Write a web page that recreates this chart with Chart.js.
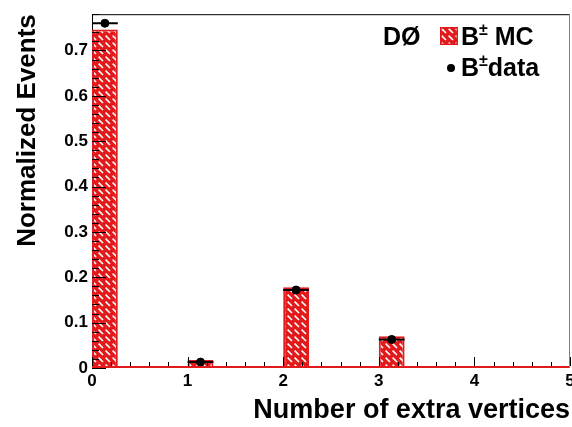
<!DOCTYPE html>
<html>
<head>
<meta charset="utf-8">
<script src="https://cdn.jsdelivr.net/npm/chart.js@4"></script>
<style>
  html, body { margin: 0; padding: 0; background: #fff; overflow: hidden; }
  #wrap { width: 580px; height: 427px; }
</style>
</head>
<body>
<div id="wrap"><canvas id="vtxChart" width="580" height="427"></canvas></div>
<script>
// Normalized distribution of extra vertices, MC vs data
const nExtra = [0, 1, 2, 3];
const mcFrac = [0.746, 0.0175, 0.178, 0.070];
const dataFrac = [0.760, 0.013, 0.172, 0.063];
const xTickValues = [0, 1, 2, 3, 4, 5];
const yTickValues = [0, 0.1, 0.2, 0.3, 0.4, 0.5, 0.6, 0.7];
const binWidth = 0.27;

const RED = '#e31a1c';
const FONT = '"Liberation Sans", Arial, Helvetica, sans-serif';

// red fill with white diagonal dashes
function hatchPattern(ctx) {
    const c = document.createElement('canvas');
    c.width = 7;
    c.height = 7;
    const g = c.getContext('2d');
    g.fillStyle = RED;
    g.fillRect(0, 0, 7, 7);
    g.strokeStyle = '#ffffff';
    g.lineWidth = 1.6;
    g.beginPath();
    g.moveTo(0.6, 0.6);
    g.lineTo(5, 5);
    g.stroke();
    return ctx.createPattern(c, 'repeat');
}

const canvas = document.getElementById('vtxChart');
const hatch = hatchPattern(canvas.getContext('2d'));

const mcPoints = nExtra.map((n, i) => ({ x: n + binWidth / 2, y: mcFrac[i] }));
const dataPoints = nExtra.map((n, i) => ({ x: n + binWidth / 2, y: dataFrac[i] }));

// frame: black top/left, red histogram baseline and right edge
const framePlugin = {
    id: 'frame',
    beforeDatasetsDraw(chart) {
        const { ctx, chartArea: a } = chart;
        ctx.save();
        ctx.strokeStyle = '#000';
        ctx.lineWidth = 1;
        ctx.beginPath();
        ctx.moveTo(a.left + 0.5, a.bottom);
        ctx.lineTo(a.left + 0.5, a.top + 0.5);
        ctx.lineTo(a.right, a.top + 0.5);
        ctx.stroke();
        ctx.restore();
    },
    afterDatasetsDraw(chart) {
        const { ctx, chartArea: a, scales } = chart;
        const x = scales.x, y = scales.y;
        ctx.save();
        ctx.strokeStyle = RED;
        ctx.lineWidth = 2;
        ctx.beginPath();
        ctx.moveTo(a.left, a.bottom - 1);
        ctx.lineTo(a.right, a.bottom - 1);
        ctx.stroke();
        ctx.lineWidth = 1;
        ctx.strokeStyle = '#d06070';
        ctx.beginPath();
        ctx.moveTo(a.right - 0.5, a.top);
        ctx.lineTo(a.right - 0.5, a.bottom);
        ctx.stroke();

        // inward tick marks
        ctx.strokeStyle = '#000';
        ctx.lineWidth = 1;
        ctx.beginPath();
        const xMin = x.min, xMax = x.max;
        for (let k = 0; k <= Math.round((xMax - xMin) / 0.2); k++) {
            const v = xMin + k * 0.2;
            const px = Math.round(x.getPixelForValue(v)) + 0.5;
            const major = Math.abs(v - Math.round(v)) < 1e-6;
            ctx.moveTo(px, a.bottom - 2);
            ctx.lineTo(px, a.bottom - (major ? 11 : 6));
        }
        for (let k = 0; k <= Math.floor(y.max / 0.02 + 1e-6); k++) {
            const v = k * 0.02;
            const py = Math.round(y.getPixelForValue(v)) + 0.5;
            const major = k % 5 === 0;
            ctx.moveTo(a.left, py);
            ctx.lineTo(a.left + (major ? 14 : 7), py);
        }
        ctx.stroke();
        ctx.restore();
    }
};

// horizontal error bars on the data points, drawn right after the MC bars
const errorBarPlugin = {
    id: 'errorBars',
    afterDatasetDraw(chart, args) {
        if (args.index !== 1) return;
        const { ctx, scales } = chart;
        ctx.save();
        ctx.strokeStyle = '#000';
        ctx.lineWidth = 2;
        ctx.beginPath();
        nExtra.forEach((n, i) => {
            const py = scales.y.getPixelForValue(dataFrac[i]);
            ctx.moveTo(scales.x.getPixelForValue(n), py);
            ctx.lineTo(scales.x.getPixelForValue(n + binWidth), py);
        });
        ctx.stroke();
        ctx.restore();
    }
};

// legend in the upper right corner
const legendPlugin = {
    id: 'vtxLegend',
    afterDraw(chart) {
        const { ctx } = chart;
        const big = 'bold 25px ' + FONT;
        const small = 'bold 16px ' + FONT;
        ctx.save();
        ctx.fillStyle = '#000';
        ctx.textBaseline = 'middle';
        ctx.textAlign = 'left';
        ctx.font = big;
        ctx.fillText('DØ', 383, 38);

        ctx.fillStyle = hatch;
        ctx.fillRect(440, 27, 18, 18);
        ctx.strokeStyle = RED;
        ctx.lineWidth = 1.5;
        ctx.strokeRect(440.75, 27.75, 16.5, 16.5);

        const row = (x, yMid, tail) => {
            ctx.fillStyle = '#000';
            ctx.font = big;
            ctx.fillText('B', x, yMid);
            x += ctx.measureText('B').width;
            ctx.font = small;
            ctx.fillText('±', x, yMid - 7);
            x += ctx.measureText('±').width;
            ctx.font = big;
            ctx.fillText(tail, x, yMid);
        };
        row(461, 38, ' MC');

        ctx.fillStyle = '#000';
        ctx.beginPath();
        ctx.arc(451, 68, 4, 0, Math.PI * 2);
        ctx.fill();
        row(461, 69, 'data');
        ctx.restore();
    }
};

const vtxChart = new Chart(canvas, {
    data: {
        datasets: [{
            type: 'scatter',
            label: 'B± data',
            data: dataPoints,
            backgroundColor: '#000',
            borderColor: '#000',
            pointRadius: 4,
            pointHoverRadius: 4,
        }, {
            type: 'bar',
            label: 'B± MC',
            data: mcPoints,
            backgroundColor: hatch,
            borderColor: RED,
            borderWidth: 2,
            borderSkipped: 'start',
            categoryPercentage: 1,
            barPercentage: binWidth,
        }]
    },
    options: {
        responsive: false,
        animation: false,
        events: [],
        layout: { padding: { top: 11, right: 10, left: 0, bottom: 0 } },
        plugins: {
            legend: { display: false },
            tooltip: { enabled: false },
        },
        scales: {
            x: {
                type: 'linear',
                min: 0,
                max: 5,
                offset: false,
                afterBuildTicks: (s) => { s.ticks = xTickValues.map(v => ({ value: v })); },
                afterFit: (s) => { s.height = 59; },
                grid: { display: false, drawTicks: false, offset: false },
                border: { display: false },
                ticks: {
                    color: '#000',
                    font: { family: FONT, size: 17, weight: 'bold' },
                    padding: 3,
                    maxRotation: 0,
                    autoSkip: false,
                    callback: (v) => String(v),
                },
                title: {
                    display: true,
                    text: 'Number of extra vertices',
                    align: 'end',
                    color: '#000',
                    font: { family: FONT, size: 27, weight: 'bold' },
                    padding: { top: 0, bottom: 0 },
                },
            },
            y: {
                min: 0,
                max: 0.78,
                afterBuildTicks: (s) => { s.ticks = yTickValues.map(v => ({ value: v })); },
                afterFit: (s) => { s.width = 92; },
                grid: { display: false, drawTicks: false },
                border: { display: false },
                ticks: {
                    color: '#000',
                    font: { family: FONT, size: 17, weight: 'bold' },
                    padding: 4,
                    autoSkip: false,
                    callback: (v) => (v === 0 ? '0' : v.toFixed(1)),
                },
                title: {
                    display: true,
                    text: 'Normalized Events',
                    align: 'end',
                    color: '#000',
                    font: { family: FONT, size: 26, weight: 'bold' },
                    padding: { top: 12, bottom: 0 },
                },
            },
        },
    },
    plugins: [framePlugin, errorBarPlugin, legendPlugin],
});
</script>
</body>
</html>
